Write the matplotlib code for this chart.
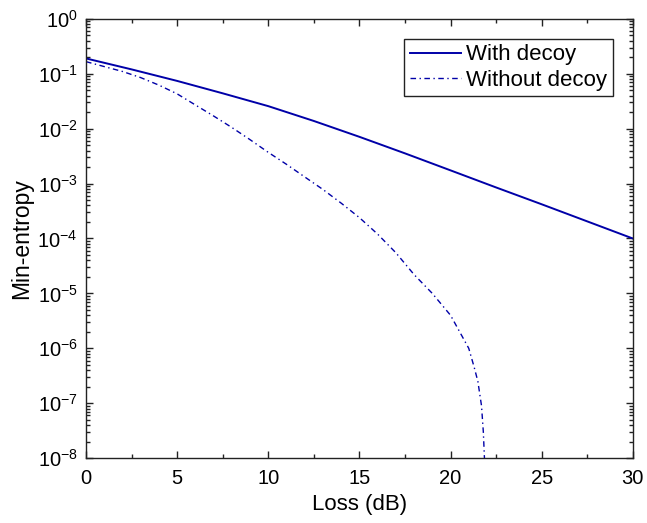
import numpy as np
import matplotlib
matplotlib.use("Agg")
import matplotlib.pyplot as plt
from matplotlib.ticker import MultipleLocator, NullFormatter, FixedLocator

plt.rcParams['font.family'] = ['Liberation Sans', 'DejaVu Sans']
plt.rcParams['mathtext.fontset'] = 'custom'
plt.rcParams['mathtext.rm'] = 'Liberation Sans'
plt.rcParams['mathtext.it'] = 'Liberation Sans:italic'

# with decoy (solid)
loss_decoy = [0, 2.5, 5, 7.5, 10, 12.5, 15, 17.5, 20, 22.5, 25, 27.5, 30]
ent_decoy = [1.9e-1, 1.2e-1, 7.4e-2, 4.4e-2, 2.57e-2, 1.38e-2, 7.1e-3,
             3.55e-3, 1.74e-3, 8.5e-4, 4.2e-4, 2.05e-4, 1.0e-4]

# without decoy (dash-dot)
loss_nodecoy = [0, 1, 2, 3, 4, 5, 6, 7, 8, 9, 10, 11, 12, 13, 14, 15, 16,
                17, 18, 19, 20, 20.5, 21, 21.3, 21.5, 21.7, 21.8, 21.9]
ent_nodecoy = [1.66e-1, 1.35e-1, 1.1e-1, 8.5e-2, 6.2e-2, 4.3e-2, 2.7e-2,
               1.7e-2, 1.05e-2, 6.3e-3, 3.7e-3, 2.24e-3, 1.32e-3, 7.8e-4,
               4.4e-4, 2.4e-4, 1.2e-4, 5.5e-5, 2.2e-5, 1.0e-5, 4.0e-6,
               2.0e-6, 1.0e-6, 4.5e-7, 2.5e-7, 9e-8, 3e-8, 5e-9]

y_decades = [1e-8, 1e-7, 1e-6, 1e-5, 1e-4, 1e-3, 1e-2, 1e-1, 1e0]

col = '#0000a8'

fig = plt.figure(figsize=(6.47, 5.23), dpi=100)
ax = fig.add_axes([0.133, 0.124, 0.845, 0.840])

ax.semilogy(loss_decoy, ent_decoy, '-', color=col, lw=1.4, label='With decoy')
ax.semilogy(loss_nodecoy, ent_nodecoy, color=col, lw=1.0,
            dashes=(4, 2.5, 1, 2.5), label='Without decoy')

ax.set_xlim(0, 30)
ax.set_ylim(1e-8, 1)
ax.xaxis.set_major_locator(MultipleLocator(5))
ax.xaxis.set_minor_locator(MultipleLocator(2.5))
ax.xaxis.set_minor_formatter(NullFormatter())
ax.yaxis.set_major_locator(FixedLocator(y_decades))
minors = [d * k for d in y_decades[:-1] for k in range(2, 10)]
ax.yaxis.set_minor_locator(FixedLocator(minors))
ax.yaxis.set_minor_formatter(NullFormatter())

ax.tick_params(which='both', direction='in', top=True, right=True,
               labelsize=14.5, color='#222222')
ax.tick_params(which='major', length=5, width=1)
ax.tick_params(which='minor', length=3, width=1)
ax.tick_params(axis='x', pad=8)
ax.tick_params(axis='y', pad=6)
for s in ax.spines.values():
    s.set_linewidth(1.0)
    s.set_color('#222222')

ax.set_xlabel('Loss (dB)', fontsize=16, labelpad=4)
ax.set_ylabel('Min-entropy', fontsize=16.5, labelpad=3)

leg = ax.legend(loc='upper right', fontsize=16, frameon=True, fancybox=False,
                edgecolor='#222222', framealpha=1, borderpad=0.25,
                handlelength=2.3, handletextpad=0.25, borderaxespad=0.9,
                labelspacing=0.2)
leg.get_frame().set_linewidth(1.0)

fig.savefig('out.png', dpi=100)
